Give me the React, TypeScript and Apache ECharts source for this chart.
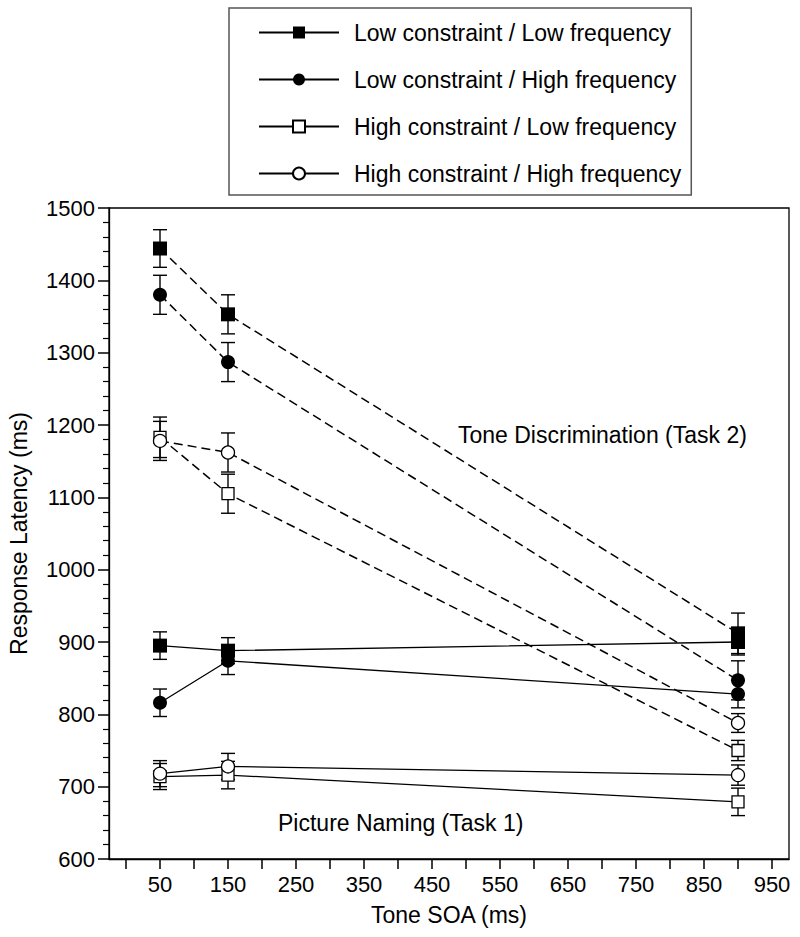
import React, { useEffect, useRef } from "react";
import * as echarts from "echarts";

const soa = [50, 150, 900];
const conditions = [
  "Low constraint / Low frequency",
  "Low constraint / High frequency",
  "High constraint / Low frequency",
  "High constraint / High frequency",
];
// Picture Naming (Task 1), solid lines
const task1LL = [895, 888, 900];
const task1LH = [816, 874, 828];
const task1HL = [714, 716, 679];
const task1HH = [718, 728, 716];
const task1LLErr = [19, 18, 18];
const task1LHErr = [19, 19, 19];
const task1HLErr = [18, 19, 19];
const task1HHErr = [18, 18, 14];
// Tone Discrimination (Task 2), dashed lines
const task2LL = [1444, 1353, 912];
const task2LH = [1380, 1287, 847];
const task2HL = [1183, 1105, 750];
const task2HH = [1178, 1162, 788];
const task2LLErr = [26, 27, 28];
const task2LHErr = [27, 27, 27];
const task2HLErr = [28, 27, 14];
const task2HHErr = [27, 27, 13];

const xTickValues = [0, 50, 100, 150, 200, 250, 300, 350, 400, 450, 500, 550, 600, 650, 700, 750, 800, 850, 900, 950];
const xLabelValues = [50, 150, 250, 350, 450, 550, 650, 750, 850, 950];

const symbols = ["rect", "circle", "rect", "circle"];
const filled = [true, true, false, false];
const symbolSizes = [14, 14, 12, 13];

const FONT = '"Liberation Sans", Arial, Helvetica, sans-serif';

export default function App() {
  const ref = useRef<HTMLDivElement>(null);
  useEffect(() => {
    if (!ref.current) return;
    const chart = echarts.init(ref.current, undefined, { renderer: "svg" });
    const t1 = [task1LL, task1LH, task1HL, task1HH];
    const t2 = [task2LL, task2LH, task2HL, task2HH];
    const e1 = [task1LLErr, task1LHErr, task1HLErr, task1HHErr];
    const e2 = [task2LLErr, task2LHErr, task2HLErr, task2HHErr];

    const errData: number[][] = [];
    [0, 1, 2, 3].forEach((k) => {
      soa.forEach((x, i) => {
        errData.push([x, t1[k][i] - e1[k][i], t1[k][i] + e1[k][i]]);
        errData.push([x, t2[k][i] - e2[k][i], t2[k][i] + e2[k][i]]);
      });
    });

    const mkLine = (k: number, vals: number[], dashed: boolean) => ({
      type: "line",
      name: conditions[k],
      data: soa.map((x, i) => [x, vals[i]]),
      symbol: symbols[k],
      symbolSize: symbolSizes[k],
      z: 5,
      lineStyle: {
        color: "#000",
        width: dashed ? 1.5 : 1.3,
        type: dashed ? [9, 5] : "solid",
      },
      itemStyle: {
        color: filled[k] ? "#000" : "#fff",
        borderColor: "#000",
        borderWidth: filled[k] ? 0 : 1.3,
        opacity: 1,
      },
      emphasis: { disabled: true },
    });

    const series: any[] = [];
    [0, 1, 2, 3].forEach((k) => series.push(mkLine(k, t1[k], false)));
    [0, 1, 2, 3].forEach((k) => series.push(mkLine(k, t2[k], true)));
    series.push({
      type: "custom",
      name: "err",
      z: 3,
      data: errData,
      encode: { x: 0, y: [1, 2] },
      renderItem: (params: any, api: any) => {
        const x = api.value(0);
        const top = api.coord([x, api.value(2)]);
        const bot = api.coord([x, api.value(1)]);
        const w = 7;
        const st = { stroke: "#000", lineWidth: 1.4 };
        return {
          type: "group",
          children: [
            { type: "line", shape: { x1: top[0], y1: top[1], x2: bot[0], y2: bot[1] }, style: st },
            { type: "line", shape: { x1: top[0] - w, y1: top[1], x2: top[0] + w, y2: top[1] }, style: st },
            { type: "line", shape: { x1: bot[0] - w, y1: bot[1], x2: bot[0] + w, y2: bot[1] }, style: st },
          ],
        };
      },
    });

    chart.setOption({
      animation: false,
      backgroundColor: "#fff",
      textStyle: { fontFamily: FONT, color: "#000" },
      grid: {
        left: 109,
        right: 11,
        top: 208,
        bottom: 78,
        show: true,
        borderColor: "#000",
        borderWidth: 1.3,
        backgroundColor: "transparent",
        containLabel: false,
        outerBoundsMode: "none",
      },
      legend: {
        data: conditions,
        orient: "vertical",
        left: 229,
        top: 8,
        padding: [13, 10, 10, 29],
        itemGap: 24,
        itemWidth: 80,
        itemHeight: 15,
        borderColor: "#555",
        borderWidth: 1.5,
        backgroundColor: "#fff",
        selectedMode: false,
        textStyle: {
          fontFamily: FONT,
          fontSize: 23,
          color: "#000",
          lineHeight: 23,
          padding: [0, 0, 0, 10],
        },
      },
      xAxis: {
        type: "value",
        min: -25,
        max: 975,
        name: "Tone SOA (ms)",
        nameLocation: "middle",
        nameGap: 44,
        nameTextStyle: { fontFamily: FONT, fontSize: 23, color: "#000" },
        axisLine: { show: true, onZero: false, lineStyle: { color: "#000", width: 1.3 } },
        axisTick: {
          show: true,
          length: 10,
          inside: false,
          customValues: xTickValues,
          lineStyle: { color: "#000", width: 1.5 },
        },
        axisLabel: {
          customValues: xLabelValues,
          fontFamily: FONT,
          fontSize: 22,
          color: "#000",
          margin: 14,
          formatter: (v: number) => String(v),
        },
        splitLine: { show: false },
      },
      yAxis: {
        type: "value",
        min: 600,
        max: 1500,
        interval: 100,
        name: "Response Latency (ms)",
        nameLocation: "middle",
        nameGap: 79,
        nameTextStyle: { fontFamily: FONT, fontSize: 23, color: "#000" },
        axisLine: { show: true, onZero: false, lineStyle: { color: "#000", width: 1.3 } },
        axisTick: { show: true, length: 11, lineStyle: { color: "#000", width: 1.5 } },
        minorTick: { show: true, splitNumber: 5, length: 6, lineStyle: { color: "#000", width: 1.2 } },
        axisLabel: {
          fontFamily: FONT,
          fontSize: 22,
          color: "#000",
          margin: 14,
          formatter: (v: number) => String(v),
        },
        splitLine: { show: false },
      },
      graphic: [
        {
          type: "text",
          left: 458,
          top: 423,
          style: { text: "Tone Discrimination (Task 2)", font: `23px ${FONT}`, fill: "#000" },
        },
        {
          type: "text",
          left: 278,
          top: 811,
          style: { text: "Picture Naming (Task 1)", font: `23px ${FONT}`, fill: "#000" },
        },
      ],
      series,
    });
    return () => chart.dispose();
  }, []);
  return (
    <div
      ref={ref}
      style={{ position: "fixed", left: 0, top: 0, width: 800, height: 937, background: "#fff" }}
    />
  );
}
